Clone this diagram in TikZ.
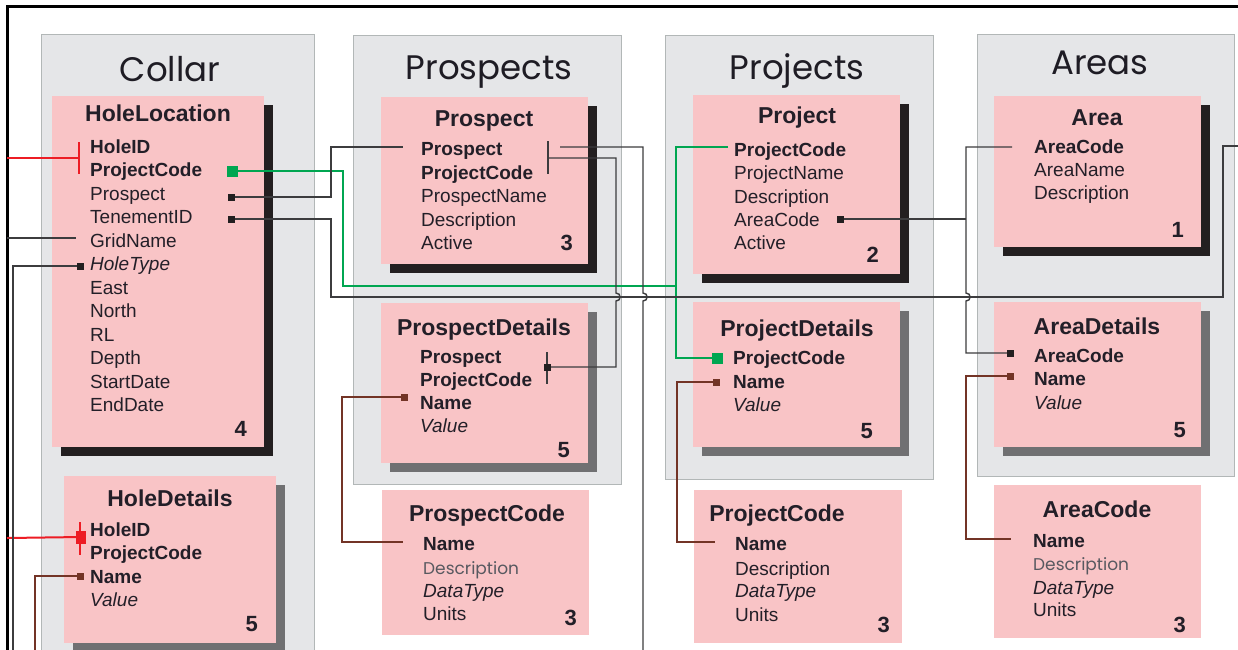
\documentclass[tikz,border=0pt]{standalone}
\usepackage{fontspec}
\setmainfont{Liberation Sans}
\newfontfamily\grpfont{Poppins}
\usetikzlibrary{fit}

\definecolor{pinkfill}{RGB}{249,196,198}
\definecolor{panelfill}{RGB}{229,230,232}
\definecolor{panelline}{RGB}{178,183,183}
\definecolor{shadowdark}{RGB}{35,31,32}
\definecolor{shadowgray}{RGB}{112,112,114}
\definecolor{txt}{RGB}{35,31,40}
\definecolor{titletext}{RGB}{30,28,36}
\definecolor{descgray}{RGB}{88,89,96}
\definecolor{linegray}{RGB}{60,60,62}
\definecolor{keygreen}{RGB}{0,166,81}
\definecolor{keyred}{RGB}{237,28,36}
\definecolor{linkbrown}{RGB}{115,52,38}

\tikzset{
  panel/.style={draw=panelline, fill=panelfill, line width=0.9pt, inner sep=0pt, outer sep=0pt},
  tbl/.style={fill=pinkfill, inner sep=0pt, outer sep=0pt},
  shadowk/.style={fill=shadowdark},
  shadowg/.style={fill=shadowgray},
  noshadow/.style={fill=none},
  grptitle/.style={anchor=base, inner sep=0pt, font=\grpfont\fontsize{34}{38}\selectfont, text=titletext},
  tbltitle/.style={anchor=base, inner sep=0pt, font=\bfseries\fontsize{23}{26}\selectfont, text=txt},
  fld/.style={anchor=base west, inner sep=0pt, font=\fontsize{19}{22}\selectfont, text=txt},
  fldk/.style={fld, font=\bfseries\fontsize{19}{22}\selectfont},
  fldi/.style={fld, font=\itshape\fontsize{19}{22}\selectfont},
  fldg/.style={fld, font=\grpfont\fontsize{17}{20}\selectfont, text=descgray},
  cnt/.style={anchor=base east, inner sep=0pt, font=\bfseries\fontsize{22}{24}\selectfont, text=txt},
  blk/.style={draw=linegray, line width=1.4pt},
  grn/.style={draw=keygreen, line width=2pt},
  rd/.style={draw=keyred, line width=2pt},
  brn/.style={draw=linkbrown, line width=1.5pt},
}

% table box: name, x1, y1, x2, y2, shadow style
\newcommand\tablebox[6]{%
  \fill[#6] (#2+9,#3+9) rectangle (#4+9,#5+9);
  \node[tbl, fit={(#2,#3) (#4,#5)}] (#1) {};
}
% square end marker: coordinate name, half size, colour
\newcommand\pinsq[3]{\fill[#3] ([shift={(-#2,-#2)}]#1) rectangle ([shift={(#2,#2)}]#1);}

\begin{document}
\begin{tikzpicture}[x=1pt,y=-1pt]
\useasboundingbox (0,0) rectangle (1238,649);
\fill[white] (0,0) rectangle (1238,649);
\begin{scope}
\clip (0,0) rectangle (1238,649);

% outer frame
\draw[line width=3pt, black] (7,700) -- (7,6) -- (1300,6);

% group panels
\node[panel, fit={(41,34) (314,680)}] (collar) {};
\node[panel, fit={(353,35) (621,484)}] (prospects) {};
\node[panel, fit={(665,35) (933,479)}] (projects) {};
\node[panel, fit={(977,34) (1234,476)}] (areas) {};

\node[grptitle] (collar-t) at (170,81) {Collar};
\node[grptitle] (prospects-t) at (489,79) {Prospects};
\node[grptitle] (projects-t) at (797,79) {Projects};
\node[grptitle] (areas-t) at (1100,74) {Areas};

% tables
\tablebox{holeloc}{52}{96}{264}{447}{shadowk}
\tablebox{holedet}{64}{476}{276}{643}{shadowg}
\tablebox{prosp}{381}{97}{588}{264}{shadowk}
\tablebox{prospdet}{381}{303}{588}{463}{shadowg}
\tablebox{prospcode}{382}{490}{589}{635}{noshadow}
\tablebox{proj}{693}{95}{900}{274}{shadowk}
\tablebox{projdet}{693}{302}{900}{447}{shadowg}
\tablebox{projcode}{694}{490}{902}{643}{noshadow}
\tablebox{area}{994}{96}{1201}{247}{shadowk}
\tablebox{areadet}{994}{302}{1201}{447}{shadowg}
\tablebox{areacode}{994}{485}{1201}{638}{noshadow}

% HoleLocation
\node[tbltitle] (hl-t) at (158,121) {HoleLocation};
\node[fldk] (hl-holeid) at (90,153) {HoleID};
\node[fldk] (hl-projcode) at (90,176.5) {ProjectCode};
\node[fld] (hl-prospect) at (90,200) {Prospect};
\node[fld] (hl-tenement) at (90,223.5) {TenementID};
\node[fld] (hl-grid) at (90,247) {GridName};
\node[fldi] (hl-holetype) at (90,270.5) {HoleType};
\node[fld] (hl-east) at (90,294) {East};
\node[fld] (hl-north) at (90,317.5) {North};
\node[fld] (hl-rl) at (90,341) {RL};
\node[fld] (hl-depth) at (90,364.5) {Depth};
\node[fld] (hl-start) at (90,388) {StartDate};
\node[fld] (hl-end) at (90,411.5) {EndDate};
\node[cnt] (hl-n) at (247,436) {4};

% HoleDetails
\node[tbltitle] (hd-t) at (170,506) {HoleDetails};
\node[fldk] (hd-holeid) at (90,536) {HoleID};
\node[fldk] (hd-projcode) at (90,559.5) {ProjectCode};
\node[fldk] (hd-name) at (90,583) {Name};
\node[fldi] (hd-value) at (90,606.5) {Value};
\node[cnt] (hd-n) at (258,631) {5};

% Prospect
\node[tbltitle] (pr-t) at (484,126) {Prospect};
\node[fldk] (pr-prospect) at (421,155.5) {Prospect};
\node[fldk] (pr-projcode) at (421,179) {ProjectCode};
\node[fld] (pr-name) at (421,202.5) {ProspectName};
\node[fld] (pr-desc) at (421,226) {Description};
\node[fld] (pr-active) at (421,249.5) {Active};
\node[cnt] (pr-n) at (573,250) {3};

% ProspectDetails
\node[tbltitle] (pd-t) at (484,335) {ProspectDetails};
\node[fldk] (pd-prospect) at (420,363) {Prospect};
\node[fldk] (pd-projcode) at (420,386) {ProjectCode};
\node[fldk] (pd-name) at (420,409) {Name};
\node[fldi] (pd-value) at (420,432) {Value};
\node[cnt] (pd-n) at (570,457) {5};

% ProspectCode
\node[tbltitle] (pc-t) at (487,521) {ProspectCode};
\node[fldk] (pc-name) at (423,550) {Name};
\node[fldg] (pc-desc) at (423,574) {Description};
\node[fldi] (pc-type) at (423,597) {DataType};
\node[fld] (pc-units) at (423,620) {Units};
\node[cnt] (pc-n) at (577,625) {3};

% Project
\node[tbltitle] (pj-t) at (797,123) {Project};
\node[fldk] (pj-projcode) at (734,156) {ProjectCode};
\node[fld] (pj-name) at (734,179) {ProjectName};
\node[fld] (pj-desc) at (734,203) {Description};
\node[fld] (pj-areacode) at (734,226) {AreaCode};
\node[fld] (pj-active) at (734,249.5) {Active};
\node[cnt] (pj-n) at (879,262) {2};

% ProjectDetails
\node[tbltitle] (pjd-t) at (797,336) {ProjectDetails};
\node[fldk] (pjd-projcode) at (733,364) {ProjectCode};
\node[fldk] (pjd-name) at (733,388) {Name};
\node[fldi] (pjd-value) at (733,411) {Value};
\node[cnt] (pjd-n) at (873,438) {5};

% ProjectCode
\node[tbltitle] (pjc-t) at (777,521) {ProjectCode};
\node[fldk] (pjc-name) at (735,550) {Name};
\node[fld] (pjc-desc) at (735,575) {Description};
\node[fldi] (pjc-type) at (735,597) {DataType};
\node[fld] (pjc-units) at (735,621) {Units};
\node[cnt] (pjc-n) at (890,632) {3};

% Area
\node[tbltitle] (ar-t) at (1097,125) {Area};
\node[fldk] (ar-areacode) at (1034,153) {AreaCode};
\node[fld] (ar-name) at (1034,176.5) {AreaName};
\node[fld] (ar-desc) at (1034,199.5) {Description};
\node[cnt] (ar-n) at (1184,237) {1};

% AreaDetails
\node[tbltitle] (ad-t) at (1097,334) {AreaDetails};
\node[fldk] (ad-areacode) at (1034,362) {AreaCode};
\node[fldk] (ad-name) at (1034,385) {Name};
\node[fldi] (ad-value) at (1034,409) {Value};
\node[cnt] (ad-n) at (1186,437) {5};

% AreaCode
\node[tbltitle] (ac-t) at (1097,517) {AreaCode};
\node[fldk] (ac-name) at (1033,547) {Name};
\node[fldg] (ac-desc) at (1033,570) {Description};
\node[fldi] (ac-type) at (1033,594) {DataType};
\node[fld] (ac-units) at (1033,616) {Units};
\node[cnt] (ac-n) at (1186,632) {3};

% connector end points
\coordinate (edgeHoleID) at (7,158);
\coordinate (hlIDpin) at (79,158);
\coordinate (edgeGrid) at (7,238);
\coordinate (hlGridpin) at (76,238);
\coordinate (hlTypepin) at (80,266);
\coordinate (bottomType) at (13,660);
\coordinate (hlPCpin) at (232,171);
\coordinate (hlPrpin) at (231,197);
\coordinate (hlTnpin) at (231,219);
\coordinate (edgeDetID) at (7,538);
\coordinate (hdIDpin) at (81,537);
\coordinate (hdNmpin) at (80,576);
\coordinate (bottomName) at (35,660);
\coordinate (prPrpin) at (403,147);
\coordinate (prKeybar) at (548,158);
\coordinate (prKeyout) at (560,147);
\coordinate (bottomProsp) at (643,660);
\coordinate (pdPrpin) at (547,367);
\coordinate (pdNmpin) at (404,397);
\coordinate (pcNmpin) at (403,542);
\coordinate (pjPCpin) at (728,147);
\coordinate (pjdPCpin) at (717,358);
\coordinate (pjACpin) at (840,219);
\coordinate (pjdNmpin) at (716,382);
\coordinate (pjcNmpin) at (715,542);
\coordinate (arACpin) at (1012,147);
\coordinate (adACpin) at (1010,353);
\coordinate (adNmpin) at (1010,376);
\coordinate (acNmpin) at (1011,539);
\coordinate (rightTen) at (1250,146);

% red HoleID links
\draw[rd] (edgeHoleID) -- (hlIDpin);
\draw[rd] (79,142) -- (79,174);
\draw[rd] (edgeDetID) -- (hdIDpin);
\draw[rd] (80,522) -- (80,555);
\fill[keyred] (76,531) rectangle (86,544);

% left-hand links
\draw[blk] (edgeGrid) -- (hlGridpin);
\draw[blk] (hlTypepin) -- (13,266) -- (bottomType);
\pinsq{hlTypepin}{3.5}{shadowdark}
\draw[brn] (hdNmpin) -- (35,576) -- (bottomName);
\pinsq{hdNmpin}{3.5}{linkbrown}

% ProjectCode (green)
\draw[grn] (hlPCpin) -- (343,171) -- (343,286) -- (676,286);
\draw[grn] (pjPCpin) -- (676,147) -- (676,358) -- (pjdPCpin);
\pinsq{hlPCpin}{5.5}{keygreen}
\pinsq{pjdPCpin}{5.5}{keygreen}

% Prospect link
\draw[blk] (hlPrpin) -- (331,197) -- (331,147) -- (prPrpin);
\pinsq{hlPrpin}{3.5}{shadowdark}

% TenementID link running right
\draw[blk] (hlTnpin) -- (331,219) -- (331,297) -- (1223,297) -- (1223,146) -- (rightTen);
\pinsq{hlTnpin}{3.5}{shadowdark}

% Prospect key
\draw[blk] (548,141) -- (548,174);
\draw[blk] (prKeyout) -- (643,147) -- (643,293)
  .. controls (648.5,293) and (648.5,301) .. (643,301) -- (bottomProsp);
\draw[blk] (prKeybar) -- (616,158) -- (616,293)
  .. controls (621.5,293) and (621.5,301) .. (616,301) -- (616,367) -- (pdPrpin);
\draw[blk] (547,352) -- (547,384);
\pinsq{pdPrpin}{3.5}{shadowdark}

% AreaCode links
\draw[blk] (pjACpin) -- (966,219);
\pinsq{pjACpin}{3.5}{shadowdark}
\draw[blk] (arACpin) -- (966,147) -- (966,293)
  .. controls (971.5,293) and (971.5,301) .. (966,301) -- (966,353) -- (adACpin);
\pinsq{adACpin}{3.5}{shadowdark}

% code lookups (brown)
\draw[brn] (pdNmpin) -- (342,397) -- (342,542) -- (pcNmpin);
\pinsq{pdNmpin}{3.5}{linkbrown}
\draw[brn] (pjdNmpin) -- (677,382) -- (677,542) -- (pjcNmpin);
\pinsq{pjdNmpin}{3.5}{linkbrown}
\draw[brn] (adNmpin) -- (966,376) -- (966,539) -- (acNmpin);
\pinsq{adNmpin}{3.5}{linkbrown}
\end{scope}
\end{tikzpicture}
\end{document}
